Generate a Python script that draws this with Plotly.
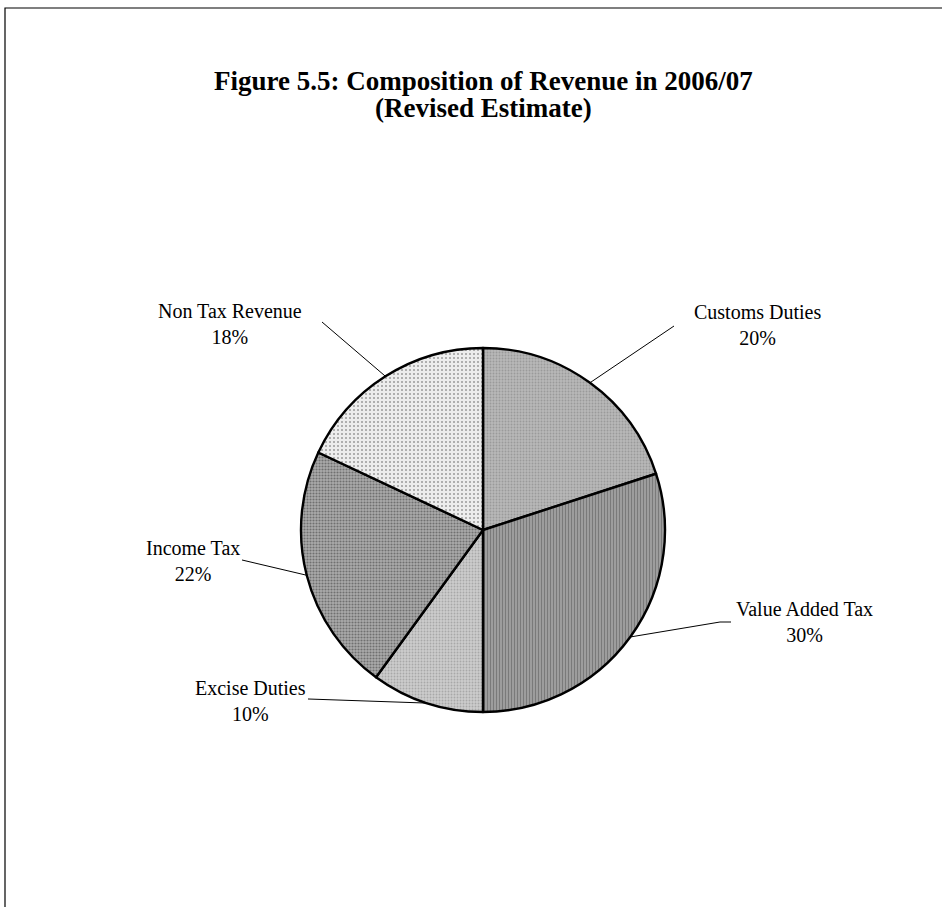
import math
import plotly.graph_objects as go

# ---- data ----
categories = ["Customs Duties", "Value Added Tax", "Excise Duties", "Income Tax", "Non Tax Revenue"]
shares = [20, 30, 10, 22, 18]
title_lines = ["Figure 5.5: Composition of Revenue in 2006/07", "(Revised Estimate)"]

# ---- styling ----
W, H = 942, 907
CX, CY, R = 483, 530, 182  # pie centre / radius in pixels (y downward)
bg_colors = ["#b8b8b8", "#a4a4a4", "#cccccc", "#ababab", "#ededed"]
fg_colors = ["#9a9a9a", "#7a7a7a", "#a8a8a8", "#707070", "#9a9a9a"]
shapes_pat = [".", "|", ".", ".", "."]
pat_sizes = [3, 3, 3, 3, 4]
pat_solid = [0.3, 0.45, 0.3, 0.4, 0.2]

# label block centres (px) and leader end points (px)
label_pos = {
    "Customs Duties": (757, 325),
    "Value Added Tax": (804, 622),
    "Excise Duties": (250, 701),
    "Income Tax": (193, 561),
    "Non Tax Revenue": (230, 324),
}
leader_ends = {
    "Customs Duties": [(674, 326)],
    "Value Added Tax": [(720, 622), (731, 622)],
    "Excise Duties": [(308, 699)],
    "Income Tax": [(242, 560)],
    "Non Tax Revenue": [(322, 322)],
}
title_y = [81, 108]


def px(x):
    return x / W


def py(y):
    return 1 - y / H


fig = go.Figure()
fig.add_trace(go.Pie(
    labels=categories,
    values=shares,
    sort=False,
    direction="clockwise",
    rotation=0,
    textinfo="none",
    hoverinfo="label+percent",
    showlegend=False,
    domain=dict(x=[px(CX - R), px(CX + R)], y=[py(CY + R), py(CY - R)]),
    marker=dict(
        colors=bg_colors,
        line=dict(color="black", width=2.4),
        pattern=dict(shape=shapes_pat, fgcolor=fg_colors, bgcolor=bg_colors,
                     size=pat_sizes, solidity=pat_solid),
    ),
))

shapes = []
annotations = []
total = sum(shares)
cum = 0.0
for cat, v in zip(categories, shares):
    mid = (cum + v / 2) / total * 2 * math.pi
    cum += v
    sx = CX + R * math.sin(mid)
    sy = CY - R * math.cos(mid)
    pts = [(sx, sy)] + leader_ends[cat]
    path = "M " + " L ".join(f"{px(x):.5f},{py(y):.5f}" for x, y in pts)
    shapes.append(dict(type="path", path=path, xref="paper", yref="paper",
                       line=dict(color="black", width=1)))
    lx, ly = label_pos[cat]
    pct = round(v / total * 100)
    annotations.append(dict(
        text=f"{cat}<br>{pct}%", x=px(lx), y=py(ly), xref="paper", yref="paper",
        xanchor="center", yanchor="middle", showarrow=False, align="center",
        font=dict(family="Liberation Serif", size=20, color="black"),
    ))

for line, ty in zip(title_lines, title_y):
    annotations.append(dict(
        text=f"<b>{line}</b>", x=px(483), y=py(ty), xref="paper", yref="paper",
        xanchor="center", yanchor="middle", showarrow=False,
        font=dict(family="Liberation Serif", size=27, color="black"),
    ))

# outer frame (top and left edges visible)
shapes.append(dict(type="rect", xref="paper", yref="paper",
                   x0=px(5), x1=px(W + 20), y0=py(H + 20), y1=py(8),
                   line=dict(color="black", width=1.2)))

fig.update_layout(
    width=W, height=H,
    margin=dict(l=0, r=0, t=0, b=0),
    paper_bgcolor="white", plot_bgcolor="white",
    shapes=shapes,
    annotations=annotations,
)

fig.write_html("out.html")
